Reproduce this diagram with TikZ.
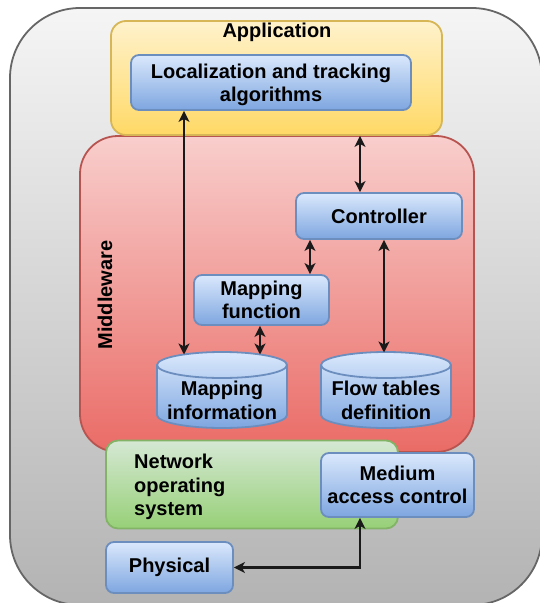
\documentclass[tikz,border=0pt]{standalone}
\usepackage{fontspec}
\setmainfont{Liberation Sans}
\usetikzlibrary{arrows.meta}
\definecolor{outerS}{HTML}{666666}
\definecolor{outerT}{HTML}{F5F5F5}
\definecolor{outerB}{HTML}{B3B3B3}
\definecolor{yelS}{HTML}{D6B656}
\definecolor{yelT}{HTML}{FFF2CC}
\definecolor{yelB}{HTML}{FFD966}
\definecolor{redS}{HTML}{B85450}
\definecolor{redT}{HTML}{F8CECC}
\definecolor{redB}{HTML}{EA6B66}
\definecolor{grnS}{HTML}{82B366}
\definecolor{grnT}{HTML}{D5E8D4}
\definecolor{grnB}{HTML}{97D077}
\definecolor{bluS}{HTML}{6C8EBF}
\definecolor{bluT}{HTML}{DAE8FC}
\definecolor{bluB}{HTML}{7EA6E0}
\definecolor{arrC}{HTML}{1A1A1A}
\begin{document}
\begin{tikzpicture}[x=1pt,y=-1pt,
  font=\fontsize{20}{23.5}\selectfont\bfseries,
  container/.style={draw=#1S, line width=1.8pt, top color=#1T, bottom color=#1B, inner sep=0pt},
  blk/.style={rounded corners=8pt, draw=bluS, line width=1.8pt, top color=bluT, bottom color=bluB, align=center, inner sep=0pt},
  cylbody/.style={draw=bluS, line width=1.8pt, top color=bluT, bottom color=bluB},
  cyltext/.style={align=center, inner sep=0pt, minimum width=130pt, minimum height=76pt},
  lbl/.style={inner sep=0pt},
  tip/.tip={Stealth[length=11pt,width=11pt,inset=3pt]},
  conn/.style={draw=arrC, line width=2.2pt, tip-tip},
]
\useasboundingbox (0,0) rectangle (540,603);
\clip (0,0) rectangle (540,603);

% outer frame
\node[container=outer, rounded corners=70pt, minimum width=532pt, minimum height=597pt] (outer) at (276,306.5) {};

% middleware
\node[container=red, rounded corners=38pt, minimum width=394pt, minimum height=316pt] (mid) at (277,294) {};
\node[lbl, rotate=90] (midlbl) at (105,295) {Middleware};

% application
\node[container=yel, rounded corners=15pt, minimum width=331pt, minimum height=114pt] (app) at (276.5,78) {};
\node[lbl] (applbl) at (277,32.5) {Application};
\node[blk, minimum width=280pt, minimum height=55pt] (loc) at (271,82.5) {\raisebox{-3pt}[\height][\depth]{\begin{tabular}{@{}c@{}}Localization and tracking\\[-0.5pt]algorithms\end{tabular}}};

% network operating system
\node[container=grn, rounded corners=12pt, minimum width=292pt, minimum height=88pt] (nos) at (252,484.5) {};
\node[lbl, anchor=west, align=left] (noslbl) at (134,487) {Network\\operating\\system};

% boxes
\node[blk, minimum width=166pt, minimum height=46pt] (ctl) at (379,216) {Controller};
\node[blk, minimum width=135pt, minimum height=50pt] (mapf) at (261.5,300) {Mapping\\function};
\node[blk, minimum width=153pt, minimum height=64pt] (mac) at (397.5,485) {Medium\\access control};
\node[blk, minimum width=127pt, minimum height=51pt] (phy) at (169.5,567.5) {Physical};

% cylinders
\path[cylbody] (157,365) -- (157,415) arc[start angle=180,end angle=360,x radius=65pt,y radius=13pt] -- (287,365) arc[start angle=0,end angle=180,x radius=65pt,y radius=13pt] -- cycle;
\draw[draw=bluS, line width=1.8pt] (157,365) arc[start angle=180,end angle=360,x radius=65pt,y radius=13pt];
\node[cyltext] (minfo) at (222,400.5) {Mapping\\information};

\path[cylbody] (321,365) -- (321,415) arc[start angle=180,end angle=360,x radius=65pt,y radius=13pt] -- (451,365) arc[start angle=0,end angle=180,x radius=65pt,y radius=13pt] -- cycle;
\draw[draw=bluS, line width=1.8pt] (321,365) arc[start angle=180,end angle=360,x radius=65pt,y radius=13pt];
\node[cyltext] (flow) at (386,400.5) {Flow tables\\definition};

% connector end points
\coordinate (miA) at (184,354.5);
\coordinate (miB) at (260,354.5);
\coordinate (flA) at (384,352.5);
\coordinate (x360) at (360,0);
\coordinate (x310) at (310,0);

% connectors
\draw[conn] (loc.south -| miA) -- (miA);
\draw[conn] (app.south -| x360) -- (ctl.north -| x360);
\draw[conn] (ctl.south -| x310) -- (mapf.north -| x310);
\draw[conn] (mapf.south -| miB) -- (miB);
\draw[conn] (ctl.south -| flA) -- (flA);
\draw[conn] (phy.east) -| (mac.south -| x360);
\end{tikzpicture}
\end{document}
